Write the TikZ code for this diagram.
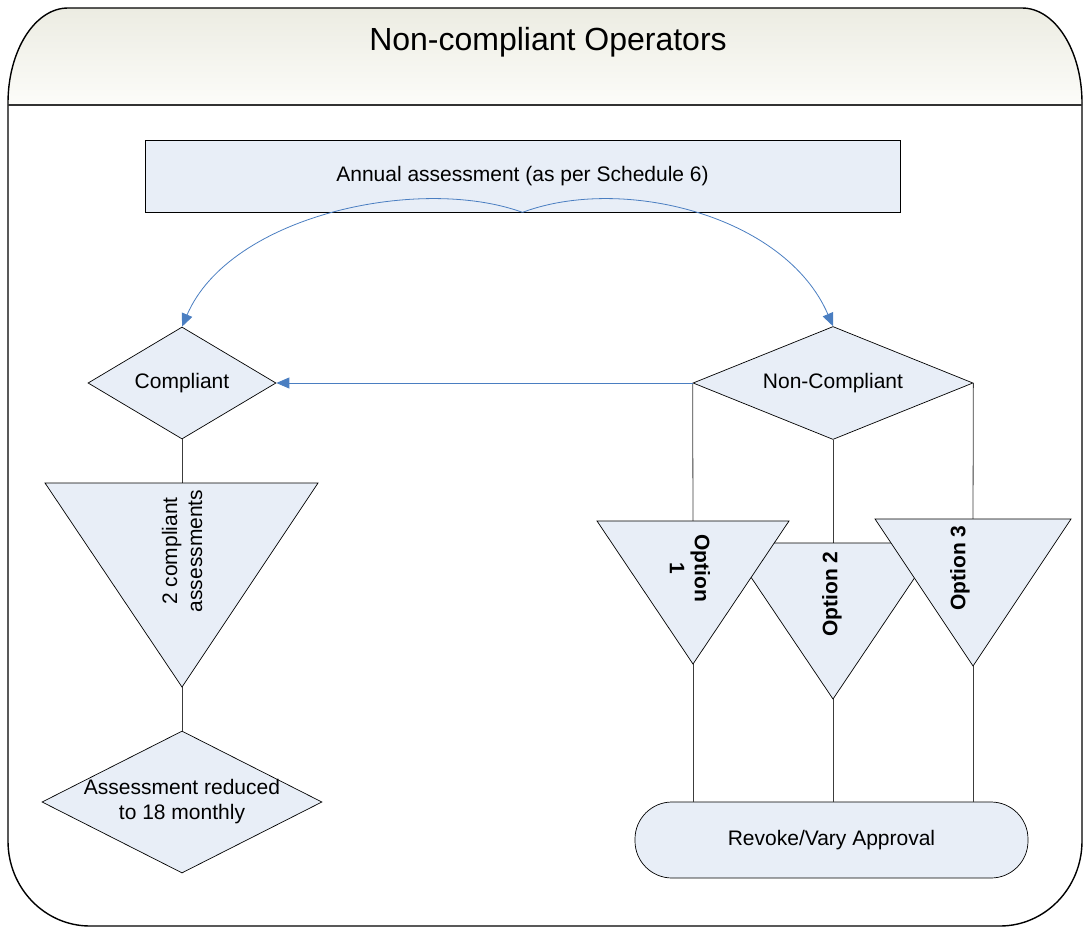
\documentclass[tikz,border=0pt]{standalone}
\usepackage{fontspec}
\setmainfont{Liberation Sans}
\usetikzlibrary{arrows.meta,shapes.geometric}
\definecolor{shapefill}{RGB}{232,238,247}
\definecolor{conn}{RGB}{60,60,60}
\definecolor{arrowblue}{RGB}{74,126,193}
\definecolor{hdrtop}{RGB}{236,236,226}
\definecolor{hdrbot}{RGB}{252,252,249}
\begin{document}
\begin{tikzpicture}[x=1pt,y=-1pt,
  body/.style={font=\fontsize{21}{25}\selectfont},
  boldbody/.style={font=\fontsize{21}{25}\selectfont\bfseries},
  box/.style={draw=black, fill=shapefill, line width=0.7pt},
  dia/.style={box, shape=diamond, inner sep=0pt, body},
  conline/.style={draw=conn, line width=0.8pt},
  bluearr/.style={draw=arrowblue, line width=0.8pt, -{Triangle[length=13pt,width=11pt]}},
  frameline/.style={draw=black, line width=1.4pt}
]
\useasboundingbox (0,0) rectangle (1084,929);
% header
\fill[top color=hdrtop, bottom color=hdrbot]
  (8,105) -- (8,103) .. controls (8,50.6) and (34.9,8) .. (68,8) -- (1022,8)
  .. controls (1055.1,8) and (1082,50.6) .. (1082,103) -- (1082,105) -- cycle;
% frame
\draw[frameline]
  (8,103) .. controls (8,50.6) and (34.9,8) .. (68,8) -- (1022,8)
  .. controls (1055.1,8) and (1082,50.6) .. (1082,103) -- (1082,841)
  .. controls (1082,888) and (1045,926) .. (1000,926) -- (90,926)
  .. controls (44.7,926) and (8,888) .. (8,841) -- cycle;
\draw[draw={rgb,255:red,50;green,50;blue,50}, line width=1.6pt] (8,105) -- (1082,105);
\node[font=\fontsize{32}{38}\selectfont, anchor=base] (title) at (548,50) {Non-compliant Operators};

% main nodes
\node[box, body, minimum width=755pt, minimum height=72pt, inner sep=0pt] (ann) at (522.5,176) {Annual assessment (as per Schedule 6)};
\node[dia, minimum width=188pt, minimum height=112pt] (comp) at (182,383) {\makebox[0pt]{Compliant}};
\node[dia, minimum width=280pt, minimum height=113pt] (nc) at (833,383) {\makebox[0pt]{Non-Compliant}};
\node[dia, minimum width=280pt, minimum height=142pt] (red) at (182,802) {\makebox[0pt]{\begin{tabular}{@{}c@{}}Assessment reduced\\to 18 monthly\end{tabular}}};
\node[box, body, minimum width=393pt, minimum height=76pt, rounded corners=37pt] (rev) at (831.5,840) {Revoke/Vary Approval};

% triangle reference points
\coordinate (ctop) at (182,483);  \coordinate (capex) at (182,687);
\coordinate (o1top) at (693,521); \coordinate (o1apex) at (693,664);
\coordinate (o2top) at (833,543); \coordinate (o2apex) at (833,699);
\coordinate (o3top) at (973,519); \coordinate (o3apex) at (973,666);

% connectors
\draw[conline] (comp.south) -- (ctop);
\draw[conline] (capex) -- (red.north);
\draw[conline] (nc.west) -- (o1top);
\draw[conline] (nc.south) -- (o2top);
\draw[conline] (nc.east) -- (o3top);
\draw[conline] (o1apex) -- (o1apex |- rev.north);
\draw[conline] (o2apex) -- (o2apex |- rev.north);
\draw[conline] (o3apex) -- (o3apex |- rev.north);

% triangles
\path[box] (45,483) -- (318,483) -- (capex) -- cycle;
\path[box] (728,543) -- (938,543) -- (o2apex) -- cycle;
\path[box] (597,521) -- (789,521) -- (o1apex) -- cycle;
\path[box] (875,519) -- (1071,519) -- (o3apex) -- cycle;

\node[body, rotate=90, align=center] (ctext) at (182,551) {2 compliant\\assessments};
\node[boldbody, rotate=-90, align=center] (o1text) at (690,568) {Option\\1};
\node[boldbody, rotate=90] (o2text) at (832,594) {Option 2};
\node[boldbody, rotate=90] (o3text) at (960,568) {Option 3};

% blue arrows
\draw[bluearr] (ann.south) .. controls (420,175) and (230,215) .. (comp.north);
\draw[bluearr] (ann.south) .. controls (622,175) and (785,215) .. (nc.north);
\draw[bluearr] (nc.west) -- (comp.east);
\end{tikzpicture}
\end{document}
